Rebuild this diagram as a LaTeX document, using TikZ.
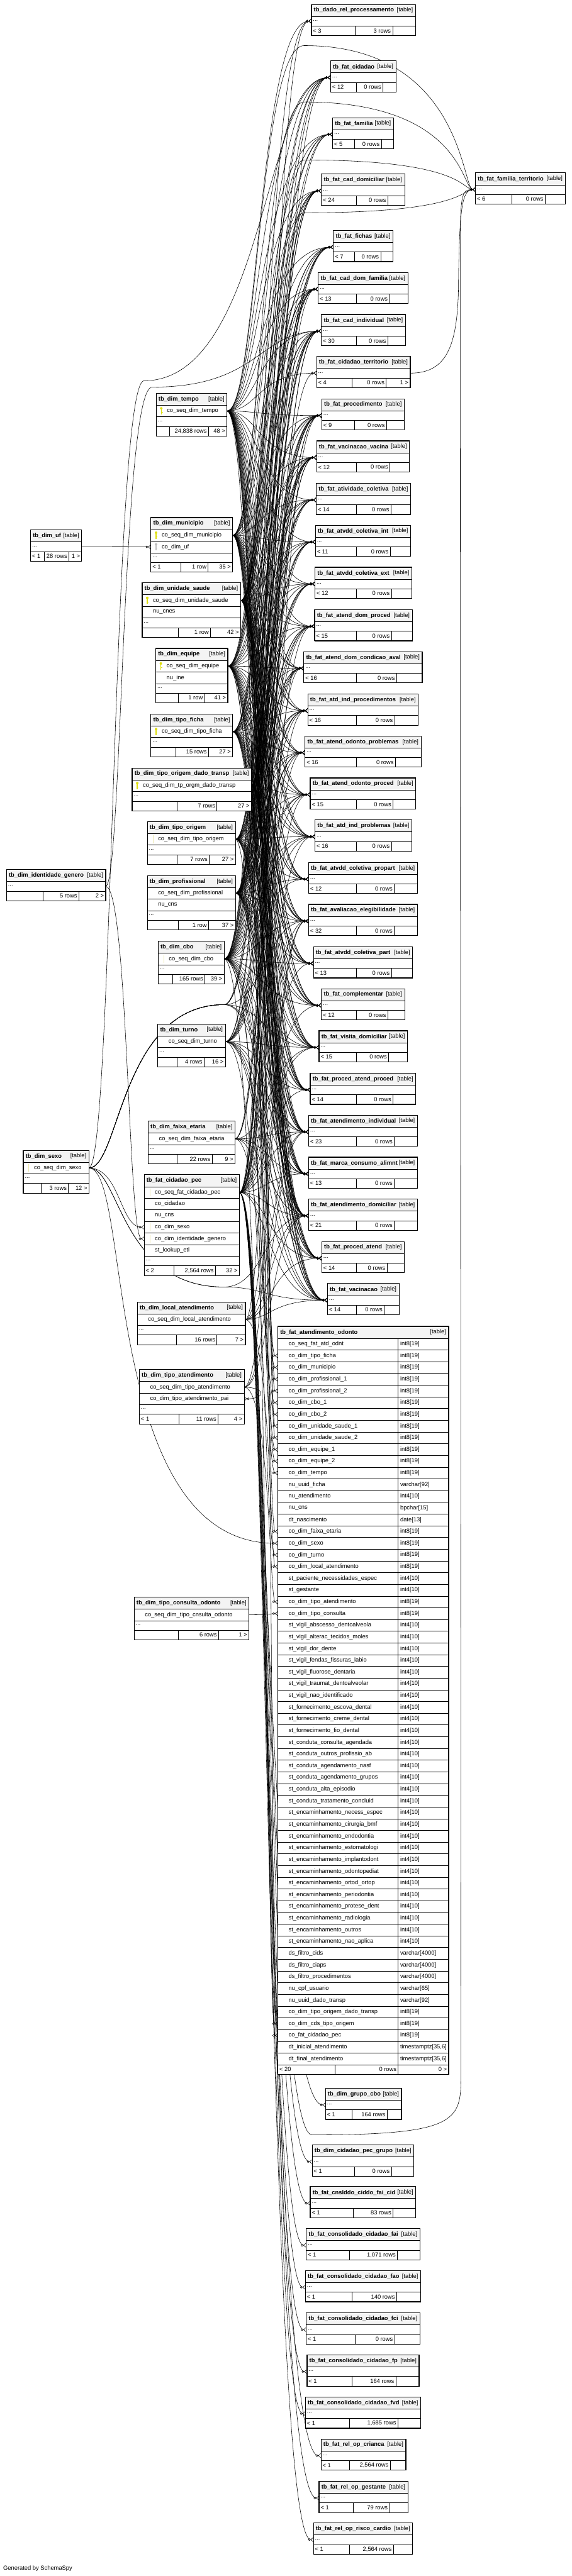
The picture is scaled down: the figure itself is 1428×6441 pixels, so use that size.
\documentclass[tikz,border=0pt]{standalone}
\usepackage{fontspec}
\setmainfont{Liberation Sans}
\usetikzlibrary{arrows.meta,backgrounds}
\definecolor{HeadClr}{rgb}{0.957,0.957,0.957}
\definecolor{KeyClr}{rgb}{0.87,0.87,0.05}
\definecolor{FKeyClr}{rgb}{0.75,0.75,0.75}
\definecolor{FaintClr}{rgb}{0.93,0.91,0.68}

% table pieces: title, rows, dots, footer
\newcommand\setY[1]{\pgfmathsetmacro\tmpY{#1}\global\let\tY\tmpY}
\newcommand\tabtop[5]{%
  \xdef\tId{#1}\xdef\tL{#2}\xdef\tTop{#3}\xdef\tR{#4}%
  \filldraw[tabline,fill=HeadClr] (#2,#3) rectangle (#4,#3+30);
  \node[ttl] (#1) at (#2+6,#3+15) {#5};
  \node[tag] (#1-tag) at (#4-6,#3+15) {[table]};
  \setY{#3+30}}
\newcommand\tabrow[3]{%
  \filldraw[tabline,fill=white] (\tL,\tY) rectangle (\tR,\tY+29);
  #2%
  \node[cell] (\tId-#1) at (\tL+27,\tY+14.5) {#3};
  \coordinate (\tId-#1-w) at (\tL,\tY+14.5);
  \coordinate (\tId-#1-e) at (\tR,\tY+14.5);
  \setY{\tY+29}}
\newcommand\tabrowT[3]{%
  \filldraw[tabline,fill=white] (\tL,\tY) rectangle (\tR,\tY+29.3);
  \draw[tabline] (\tS,\tY) -- (\tS,\tY+29.3);
  \node[cell] (\tId-#1) at (\tL+27,\tY+14.65) {#2};
  \node[cell] (\tId-#1-t) at (\tS+5,\tY+14.65) {#3};
  \coordinate (\tId-#1-w) at (\tL,\tY+14.65);
  \setY{\tY+29.3}}
\newcommand\tabdots{%
  \filldraw[tabline,fill=white] (\tL,\tY) rectangle (\tR,\tY+24);
  \node[cell] (\tId-d) at (\tL+4,\tY+11) {...};
  \coordinate (\tId-dw) at (\tL,\tY+12);
  \coordinate (\tId-de) at (\tR,\tY+12);
  \setY{\tY+24}}
\newcommand\tabfoot[5]{%
  \filldraw[tabline,fill=white] (\tL,\tY) rectangle (\tR,\tY+24);
  \draw[tabline] (#1,\tY) -- (#1,\tY+24) (#2,\tY) -- (#2,\tY+24);
  \node[cell] (\tId-f1) at (\tL+4,\tY+12) {#3};
  \node[cellr] (\tId-f2) at (#2-4,\tY+12) {#4};
  \node[cellr] (\tId-f3) at (\tR-4,\tY+12) {#5};
  \draw[tabframe] (\tL,\tTop) rectangle (\tR,\tY+24);}
\newcommand\facttab[9]{\tabtop{#1}{#2}{#3}{#4}{#5}\tabdots\tabfoot{#8}{#9}{#6}{#7}{}}
\newcommand\pkey{%
  \fill[KeyClr] (\tL+13,\tY+8) circle (3.2);
  \draw[KeyClr,line width=2pt] (\tL+13,\tY+9) -- (\tL+13,\tY+23);
  \draw[KeyClr,line width=1.3pt] (\tL+13,\tY+18) -- (\tL+16.5,\tY+18);}
\newcommand\fkey{%
  \fill[FKeyClr] (\tL+13,\tY+8) circle (3.2);
  \draw[FKeyClr,line width=2pt] (\tL+13,\tY+9) -- (\tL+13,\tY+23);
  \draw[FKeyClr,line width=1.3pt] (\tL+13,\tY+18) -- (\tL+16.5,\tY+18);}
\newcommand\fmark{\draw[FaintClr,line width=1pt] (\tL+14,\tY+5) -- (\tL+14,\tY+24);}
\newcommand\tzz{timestamptz[35,6]}

% relations
\newcommand\fk[3]{\draw[fk] (#1) .. controls (#1 -| #2) and (#3 -| #2) .. (#3);}
\newcommand\fanout[3]{\edef\fanlist{#3}\foreach \tb in \fanlist {\fk{#1}{#2}{\tb-dw}}}
\def\core{cid,fam,cdom,fich,cdf,cind,proc,vvac,acol,aint,aext,adp,adca,aip,aop,aopr,aipb,apro,aeleg,apart,comp,vdom,pap,aind,mca,adom,pat,vac}
\def\cds{cdom,fich,cdf,cind,proc,vvac,acol,aint,aext,adp,adca,aip,aop,aopr,aipb,apro,aeleg,apart,comp,vdom,pap,aind,mca,adom,pat,vac}

\begin{document}
\catcode`\_=12
\begin{tikzpicture}[x=1pt,y=-1pt,font=\fontsize{14.7}{17}\selectfont,
  tabline/.style={draw=black,line width=0.8pt},
  tabframe/.style={draw=black,line width=1.3pt},
  ttl/.style={anchor=west,inner sep=0pt,font=\fontsize{14.7}{17}\selectfont\bfseries},
  tag/.style={anchor=east,inner sep=0pt},
  cell/.style={anchor=west,inner sep=0pt},
  cellr/.style={anchor=east,inner sep=0pt},
  fk/.style={draw=black,line width=0.9pt,
    -{Circle[open,length=6pt,width=6pt] Straight Barb[reversed,length=6pt,width=10pt]}}]
\useasboundingbox (0,0) rectangle (1428,6441);

% dimension tables
\tabtop{tempo}{390}{983}{567}{tb_dim_tempo}
\tabrow{k}{\pkey}{co_seq_dim_tempo}
\tabdots
\tabfoot{423}{521}{}{24,838 rows}{48 >}

\tabtop{uf}{76}{1325}{204}{tb_dim_uf}
\tabdots
\tabfoot{110}{172}{< 1}{28 rows}{1 >}

\tabtop{mun}{377}{1294}{581}{tb_dim_municipio}
\tabrow{k}{\pkey}{co_seq_dim_municipio}
\tabrow{u}{\fkey}{co_dim_uf}
\tabdots
\tabfoot{451}{520}{< 1}{1 row}{35 >}

\tabtop{us}{355}{1457}{601}{tb_dim_unidade_saude}
\tabrow{k}{\pkey}{co_seq_dim_unidade_saude}
\tabrow{c}{}{nu_cnes}
\tabdots
\tabfoot{445}{526}{}{1 row}{42 >}

\tabtop{eq}{389}{1621}{569}{tb_dim_equipe}
\tabrow{k}{\pkey}{co_seq_dim_equipe}
\tabrow{n}{}{nu_ine}
\tabdots
\tabfoot{446}{511}{}{1 row}{41 >}

\tabtop{tfic}{377}{1785}{581}{tb_dim_tipo_ficha}
\tabrow{k}{\pkey}{co_seq_dim_tipo_ficha}
\tabdots
\tabfoot{439}{521}{}{15 rows}{27 >}

\tabtop{todt}{330}{1920}{628}{tb_dim_tipo_origem_dado_transp}
\tabrow{k}{\pkey}{co_seq_dim_tp_orgm_dado_transp}
\tabdots
\tabfoot{442}{542}{}{7 rows}{27 >}

\tabtop{tori}{368}{2054}{588}{tb_dim_tipo_origem}
\tabrow{k}{\fmark}{co_seq_dim_tipo_origem}
\tabdots
\tabfoot{442}{523}{}{7 rows}{27 >}

\tabtop{idg}{16}{2174}{264}{tb_dim_identidade_genero}
\tabdots
\tabfoot{107}{197}{}{5 rows}{2 >}

\tabtop{prof}{368}{2189}{588}{tb_dim_profissional}
\tabrow{k}{}{co_seq_dim_profissional}
\tabrow{c}{}{nu_cns}
\tabdots
\tabfoot{446}{521}{}{1 row}{37 >}

\tabtop{cbo}{395}{2353}{560}{tb_dim_cbo}
\tabrow{k}{\fmark}{co_seq_dim_cbo}
\tabdots
\tabfoot{432}{512}{}{165 rows}{39 >}

\tabtop{turno}{394}{2560}{563}{tb_dim_turno}
\tabrow{k}{}{co_seq_dim_turno}
\tabdots
\tabfoot{442}{510}{}{4 rows}{16 >}

\tabtop{faixa}{370}{2803}{587}{tb_dim_faixa_etaria}
\tabrow{k}{}{co_seq_dim_faixa_etaria}
\tabdots
\tabfoot{442}{530}{}{22 rows}{9 >}

\tabtop{sexo}{58}{2876}{222}{tb_dim_sexo}
\tabrow{k}{\fmark}{co_seq_dim_sexo}
\tabdots
\tabfoot{103}{171}{}{3 rows}{12 >}

\tabtop{cpec}{360}{2937}{598}{tb_fat_cidadao_pec}
\tabrow{k}{\fmark}{co_seq_fat_cidadao_pec}
\tabrow{c}{}{co_cidadao}
\tabrow{n}{}{nu_cns}
\tabrow{s}{\fmark}{co_dim_sexo}
\tabrow{g}{\fmark}{co_dim_identidade_genero}
\tabrow{l}{}{st_lookup_etl}
\tabdots
\tabfoot{434}{538}{< 2}{2,564 rows}{32 >}

\tabtop{local}{343}{3255}{613}{tb_dim_local_atendimento}
\tabrow{k}{}{co_seq_dim_local_atendimento}
\tabdots
\tabfoot{441}{542}{}{16 rows}{7 >}

\tabtop{tatd}{348}{3424}{610}{tb_dim_tipo_atendimento}
\tabrow{k}{}{co_seq_dim_tipo_atendimento}
\tabrow{p}{}{co_dim_tipo_atendimento_pai}
\tabdots
\tabfoot{447}{545}{< 1}{11 rows}{4 >}

\tabtop{tco}{335}{3993}{622}{tb_dim_tipo_consulta_odonto}
\tabrow{k}{}{co_seq_dim_tipo_cnsulta_odonto}
\tabdots
\tabfoot{446}{546}{}{6 rows}{1 >}

% fact tables
\facttab{drp}{778}{11}{1038}{tb_dado_rel_processamento}{< 3}{3 rows}{887}{981}
\facttab{cid}{826}{152}{989}{tb_fat_cidadao}{< 12}{0 rows}{890}{957}
\facttab{fam}{831}{294}{983}{tb_fat_familia}{< 5}{0 rows}{886}{953}
\facttab{cdom}{803}{435}{1011}{tb_fat_cad_domiciliar}{< 24}{0 rows}{890}{969}
\facttab{famt}{1188}{432}{1412}{tb_fat_familia_territorio}{< 6}{0 rows}{1279}{1362}
\facttab{fich}{833}{576}{982}{tb_fat_fichas}{< 7}{0 rows}{886}{951}
\facttab{cdf}{795}{681}{1019}{tb_fat_cad_dom_familia}{< 13}{0 rows}{890}{973}
\facttab{cind}{803}{786}{1013}{tb_fat_cad_individual}{< 30}{0 rows}{891}{969}
\tabtop{cter}{791}{891}{1025}{tb_fat_cidadao_territorio}
\tabdots
\tabfoot{880}{965}{< 4}{0 rows}{1 >}
\facttab{proc}{804}{997}{1010}{tb_fat_procedimento}{< 9}{0 rows}{886}{966}
\facttab{vvac}{791}{1102}{1023}{tb_fat_vacinacao_vacina}{< 12}{0 rows}{890}{974}
\facttab{acol}{790}{1208}{1026}{tb_fat_atividade_coletiva}{< 14}{0 rows}{891}{977}
\facttab{aint}{788}{1313}{1026}{tb_fat_atvdd_coletiva_int}{< 11}{0 rows}{890}{975}
\facttab{aext}{787}{1418}{1029}{tb_fat_atvdd_coletiva_ext}{< 12}{0 rows}{891}{978}
\facttab{adp}{786}{1524}{1030}{tb_fat_atend_dom_proced}{< 15}{0 rows}{891}{978}
\facttab{adca}{759}{1629}{1055}{tb_fat_atend_dom_condicao_aval}{< 16}{0 rows}{891}{991}
\facttab{aip}{769}{1735}{1045}{tb_fat_atd_ind_procedimentos}{< 16}{0 rows}{891}{986}
\facttab{aop}{762}{1840}{1052}{tb_fat_atend_odonto_problemas}{< 16}{0 rows}{890}{988}
\facttab{aopr}{775}{1945}{1039}{tb_fat_atend_odonto_proced}{< 15}{0 rows}{890}{982}
\facttab{aipb}{787}{2050}{1029}{tb_fat_atd_ind_problemas}{< 16}{0 rows}{891}{978}
\facttab{apro}{771}{2156}{1043}{tb_fat_atvdd_coletiva_propart}{< 12}{0 rows}{890}{985}
\facttab{aeleg}{771}{2261}{1043}{tb_fat_avaliacao_elegibilidade}{< 32}{0 rows}{890}{985}
\facttab{apart}{783}{2367}{1031}{tb_fat_atvdd_coletiva_part}{< 13}{0 rows}{890}{978}
\facttab{comp}{803}{2472}{1011}{tb_fat_complementar}{< 12}{0 rows}{890}{969}
\facttab{vdom}{797}{2577}{1018}{tb_fat_visita_domiciliar}{< 15}{0 rows}{890}{971}
\facttab{pap}{775}{2683}{1039}{tb_fat_proced_atend_proced}{< 14}{0 rows}{890}{982}
\facttab{aind}{771}{2788}{1043}{tb_fat_atendimento_individual}{< 23}{0 rows}{890}{985}
\facttab{mca}{771}{2893}{1043}{tb_fat_marca_consumo_alimnt}{< 13}{0 rows}{890}{985}
\facttab{adom}{771}{2998}{1043}{tb_fat_atendimento_domiciliar}{< 21}{0 rows}{890}{985}
\facttab{pat}{804}{3104}{1010}{tb_fat_proced_atend}{< 14}{0 rows}{890}{967}
\facttab{vac}{818}{3209}{997}{tb_fat_vacinacao}{< 14}{0 rows}{890}{960}

\def\tS{995}
\tabtop{odo}{694}{3316}{1121}{tb_fat_atendimento_odonto}
\foreach \nm/\ty [count=\n] in {co_seq_fat_atd_odnt/int8[19], co_dim_tipo_ficha/int8[19],
  co_dim_municipio/int8[19], co_dim_profissional_1/int8[19], co_dim_profissional_2/int8[19],
  co_dim_cbo_1/int8[19], co_dim_cbo_2/int8[19], co_dim_unidade_saude_1/int8[19],
  co_dim_unidade_saude_2/int8[19], co_dim_equipe_1/int8[19], co_dim_equipe_2/int8[19],
  co_dim_tempo/int8[19], nu_uuid_ficha/varchar[92], nu_atendimento/int4[10], nu_cns/bpchar[15],
  dt_nascimento/date[13], co_dim_faixa_etaria/int8[19], co_dim_sexo/int8[19], co_dim_turno/int8[19],
  co_dim_local_atendimento/int8[19], st_paciente_necessidades_espec/int4[10], st_gestante/int4[10],
  co_dim_tipo_atendimento/int8[19], co_dim_tipo_consulta/int8[19],
  st_vigil_abscesso_dentoalveola/int4[10], st_vigil_alterac_tecidos_moles/int4[10],
  st_vigil_dor_dente/int4[10], st_vigil_fendas_fissuras_labio/int4[10],
  st_vigil_fluorose_dentaria/int4[10], st_vigil_traumat_dentoalveolar/int4[10],
  st_vigil_nao_identificado/int4[10], st_fornecimento_escova_dental/int4[10],
  st_fornecimento_creme_dental/int4[10], st_fornecimento_fio_dental/int4[10],
  st_conduta_consulta_agendada/int4[10], st_conduta_outros_profissio_ab/int4[10],
  st_conduta_agendamento_nasf/int4[10], st_conduta_agendamento_grupos/int4[10],
  st_conduta_alta_episodio/int4[10], st_conduta_tratamento_concluid/int4[10],
  st_encaminhamento_necess_espec/int4[10], st_encaminhamento_cirurgia_bmf/int4[10],
  st_encaminhamento_endodontia/int4[10], st_encaminhamento_estomatologi/int4[10],
  st_encaminhamento_implantodont/int4[10], st_encaminhamento_odontopediat/int4[10],
  st_encaminhamento_ortod_ortop/int4[10], st_encaminhamento_periodontia/int4[10],
  st_encaminhamento_protese_dent/int4[10], st_encaminhamento_radiologia/int4[10],
  st_encaminhamento_outros/int4[10], st_encaminhamento_nao_aplica/int4[10],
  ds_filtro_cids/varchar[4000], ds_filtro_ciaps/varchar[4000], ds_filtro_procedimentos/varchar[4000],
  nu_cpf_usuario/varchar[65], nu_uuid_dado_transp/varchar[92],
  co_dim_tipo_origem_dado_transp/int8[19], co_dim_cds_tipo_origem/int8[19],
  co_fat_cidadao_pec/int8[19], dt_inicial_atendimento/\tzz, dt_final_atendimento/\tzz}
  {\tabrowT{r\n}{\nm}{\ty}}
\tabfoot{837}{995}{< 20}{0 rows}{0 >}
\draw[line width=2.4pt] (694,3316) rectangle (1121,\tY+24);

\facttab{gcbo}{813}{5221}{1003}{tb_dim_grupo_cbo}{< 1}{164 rows}{879}{967}
\facttab{cpg}{780}{5363}{1034}{tb_dim_cidadao_pec_grupo}{< 1}{0 rows}{886}{978}
\facttab{cfc}{775}{5467}{1039}{tb_fat_cnslddo_ciddo_fai_cid}{< 1}{83 rows}{882}{982}
\facttab{cfai}{765}{5572}{1049}{tb_fat_consolidado_cidadao_fai}{< 1}{1,071 rows}{873}{993}
\facttab{cfao}{763}{5677}{1051}{tb_fat_consolidado_cidadao_fao}{< 1}{140 rows}{879}{991}
\facttab{cfci}{765}{5783}{1049}{tb_fat_consolidado_cidadao_fci}{< 1}{0 rows}{887}{986}
\facttab{cfp}{767}{5888}{1047}{tb_fat_consolidado_cidadao_fp}{< 1}{164 rows}{879}{989}
\facttab{cfvd}{763}{5993}{1051}{tb_fat_consolidado_cidadao_fvd}{< 1}{1,685 rows}{873}{994}
\facttab{rcri}{802}{6098}{1014}{tb_fat_rel_op_crianca}{< 1}{2,564 rows}{873}{975}
\facttab{rges}{797}{6204}{1019}{tb_fat_rel_op_gestante}{< 1}{79 rows}{883}{973}
\facttab{rcar}{783}{6308}{1031}{tb_fat_rel_op_risco_cardio}{< 1}{2,564 rows}{873}{983}

\node[cell] (gen) at (8,6422) {Generated by SchemaSpy};

% lanes and bends
\coordinate (Ltempo) at (645,0);  \coordinate (Lmun) at (650,0);
\coordinate (Lus) at (668,0);     \coordinate (Leq) at (655,0);
\coordinate (Ltfic) at (660,0);   \coordinate (Ltodt) at (678,0);
\coordinate (Ltori) at (664,0);   \coordinate (Lprof) at (670,0);
\coordinate (Lcbo) at (652,0);    \coordinate (Lturno) at (658,0);
\coordinate (Lfaixa) at (672,0);  \coordinate (Lcpec) at (668,0);
\coordinate (Llocal) at (676,0);  \coordinate (Ltatd) at (674,0);
\coordinate (Ltco) at (676,0);    \coordinate (Lsexo) at (662,0);
\coordinate (Lidg) at (648,0);
\coordinate (sxc) at (300,0);  \coordinate (sxc2) at (282,0);
\coordinate (igc) at (305,0);  \coordinate (igc2) at (320,0);
\coordinate (sxc4) at (330,0); \coordinate (sxc5) at (250,0);
\coordinate (sxu) at (560,2512); \coordinate (sxd) at (560,3218);
\coordinate (sxt) at (360,952);  \coordinate (igt) at (380,968);
\coordinate (fx) at (1155,0);
\coordinate (w1) at (760,114); \coordinate (w2) at (760,255);
\coordinate (w3) at (760,400); \coordinate (w4) at (760,532);
\coordinate (w5) at (780,5338); \coordinate (w6) at (1152,5180);
\coordinate (w6c) at (1152,5300); \coordinate (w7) at (1150,620);
\coordinate (w7c) at (1150,480);
\coordinate (ct1) at (1120,933); \coordinate (ct2) at (1145,860);
\coordinate (w8) at (1146,700); \coordinate (w8c) at (1148,520);
\coordinate (tl1) at (665,3469); \coordinate (tl2) at (665,3498);

\begin{pgfonlayer}{background}
\fill[white] (0,0) rectangle (1428,6441);
\fanout{tempo-k-e}{Ltempo}{drp,\core,cter}
\fanout{mun-k-e}{Lmun}{\core}
\fanout{us-k-e}{Lus}{drp,\core}
\fanout{eq-k-e}{Leq}{\core}
\fanout{prof-k-e}{Lprof}{\core}
\fanout{cbo-k-e}{Lcbo}{\core,gcbo}
\fanout{tfic-k-e}{Ltfic}{\cds}
\fanout{todt-k-e}{Ltodt}{drp,\cds}
\fanout{tori-k-e}{Ltori}{\cds}
\fanout{turno-k-e}{Lturno}{proc,vvac,adp,adca,aip,aop,aopr,aipb,vdom,pap,aind,mca,adom,pat,vac}
\fanout{faixa-k-e}{Lfaixa}{cind,proc,vvac,vdom,aind,mca,adom,vac}
\fanout{cpec-k-e}{Lcpec}{cid,cter,cdf,cind,proc,vvac,adp,adca,aip,aop,aopr,aipb,apart,aeleg,comp,vdom,pap,aind,mca,adom,pat,vac,cpg,cfc,cfai,cfao,cfci,cfp,cfvd,rcri,rges,rcar}
\fanout{local-k-e}{Llocal}{proc,aeleg,aind,adom,pat,vac}
\fanout{tatd-k-e}{Ltatd}{aeleg,aind,adom}

\fk{tfic-k-e}{Ltfic}{odo-r2-w}
\fk{mun-k-e}{Lmun}{odo-r3-w}
\fk{prof-k-e}{Lprof}{odo-r4-w}
\fk{prof-k-e}{Lprof}{odo-r5-w}
\fk{cbo-k-e}{Lcbo}{odo-r6-w}
\fk{cbo-k-e}{Lcbo}{odo-r7-w}
\fk{us-k-e}{Lus}{odo-r8-w}
\fk{us-k-e}{Lus}{odo-r9-w}
\fk{eq-k-e}{Leq}{odo-r10-w}
\fk{eq-k-e}{Leq}{odo-r11-w}
\fk{tempo-k-e}{Ltempo}{odo-r12-w}
\fk{faixa-k-e}{Lfaixa}{odo-r17-w}
\fk{turno-k-e}{Lturno}{odo-r19-w}
\fk{local-k-e}{Llocal}{odo-r20-w}
\fk{tatd-k-e}{Ltatd}{odo-r23-w}
\fk{tco-k-e}{Ltco}{odo-r24-w}
\fk{todt-k-e}{Ltodt}{odo-r58-w}
\fk{tori-k-e}{Ltori}{odo-r59-w}
\fk{cpec-k-e}{Lcpec}{odo-r60-w}

\draw[fk] (uf-de) -- (mun-u-w);
\draw[fk] (tatd-k-e) .. controls (tl1) and (tl2) .. (tatd-p-e);

\foreach \tb in {cind,proc,vvac,aeleg,vdom,aind,mca}
  \draw[fk] (sexo-k-e) .. controls (sexo-k-e -| sxc) and (sxu -| sxc) .. (sxu)
    .. controls (sxu -| Lsexo) and (\tb-dw -| Lsexo) .. (\tb-dw);
\foreach \tb in {adom,vac}
  \draw[fk] (sexo-k-e) .. controls (sexo-k-e -| sxc) and (sxd -| sxc) .. (sxd)
    .. controls (sxd -| Lsexo) and (\tb-dw -| Lsexo) .. (\tb-dw);
\draw[fk] (sexo-k-e) .. controls (sexo-k-e -| sxc2) and (sxt -| sxc2) .. (sxt)
  .. controls (sxt -| Lsexo) and (cid-dw -| Lsexo) .. (cid-dw);
\draw[fk] (sexo-k-e) .. controls (sexo-k-e -| sxc) and (cpec-s-w -| sxc) .. (cpec-s-w);
\draw[fk] (sexo-k-e) .. controls (sexo-k-e -| sxc4) and (odo-r18-w -| sxc5) .. (odo-r18-w);
\draw[fk] (idg-de) .. controls (idg-de -| igc) and (igt -| igc) .. (igt)
  .. controls (igt -| Lidg) and (cind-dw -| Lidg) .. (cind-dw);
\draw[fk] (idg-de) .. controls (idg-de -| igc2) and (cpec-g-w -| igc2) .. (cpec-g-w);

\draw[fk] (tempo-k-e) .. controls (tempo-k-e -| Ltempo) and (w1 -| Ltempo) .. (w1)
  .. controls (w1 -| fx) and (famt-dw -| fx) .. (famt-dw);
\draw[fk] (mun-k-e) .. controls (mun-k-e -| Lmun) and (w2 -| Lmun) .. (w2)
  .. controls (w2 -| fx) and (famt-dw -| fx) .. (famt-dw);
\draw[fk] (us-k-e) .. controls (us-k-e -| Lus) and (w3 -| Lus) .. (w3)
  .. controls (w3 -| fx) and (famt-dw -| fx) .. (famt-dw);
\draw[fk] (eq-k-e) .. controls (eq-k-e -| Leq) and (w4 -| Leq) .. (w4)
  .. controls (w4 -| fx) and (famt-dw -| fx) .. (famt-dw);
\draw[fk] (cpec-k-e) .. controls (cpec-k-e -| Lcpec) and (w5 -| Lcpec) .. (w5)
  .. controls (w5 -| fx) and (w6c) .. (w6) -- (w7) .. controls (w7c) and (famt-dw -| fx) .. (famt-dw);
\draw[fk] (cter-de) .. controls (ct1) and (ct2) .. (w8) .. controls (w8c) and (famt-dw -| fx) .. (famt-dw);
\end{pgfonlayer}
\end{tikzpicture}
\end{document}
